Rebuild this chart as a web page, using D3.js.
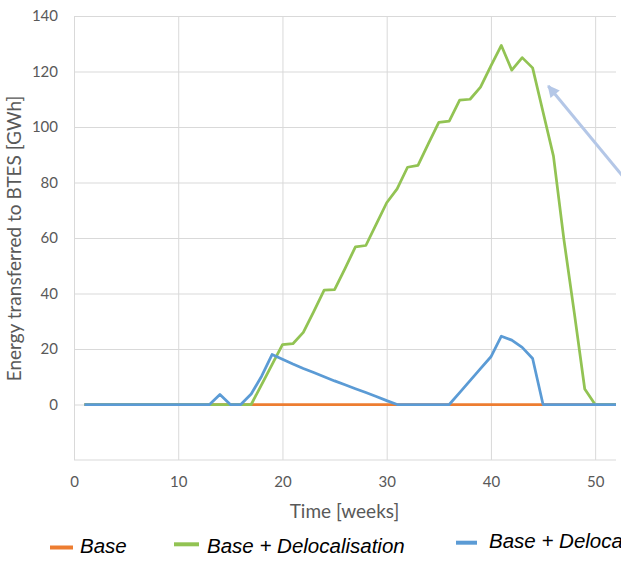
<!DOCTYPE html>
<html>
<head>
<meta charset="utf-8">
<script src="https://cdn.jsdelivr.net/npm/d3@7"></script>
<style>
  html, body { margin: 0; padding: 0; background: #fff; }
  svg { display: block; }
</style>
</head>
<body>
<svg id="chart" width="621" height="565"></svg>
<script>
// ---- data ----
const weeks = d3.range(1, 53);
const base = [0,0,0,0,0,0,0,0,0,0,0,0,0,0,0,0,0,0,0,0,0,0,0,0,0,0,0,0,0,0,0,0,0,0,0,0,0,0,0,0,0,0,0,0,0,0,0,0,0,0,0,0];
const baseDeloc = [0,0,0,0,0,0,0,0,0,0,0,0,0,0,0,0,0,7.2,14.4,21.6,21.9,26,33.5,41.2,41.4,49,56.8,57.3,65,72.7,77.7,85.5,86.2,94,101.7,102.1,109.7,110,114.4,122,129.4,120.5,125,121.3,105.4,89.5,59.5,33,5.6,0,0,0];
const baseDeloc2 = [0,0,0,0,0,0,0,0,0,0,0,0,0,3.6,0,0,3.8,10.2,18,16.3,14.6,13,11.5,10,8.5,7.1,5.7,4.3,2.9,1.4,0,0,0,0,0,0,4.3,8.6,12.9,17.2,24.6,23.2,20.6,16.6,0,0,0,0,0,0,0,0];
const xTicks = [0, 10, 20, 30, 40, 50];
const yTicks = [0, 20, 40, 60, 80, 100, 120, 140];
const seriesNames = ["Base", "Base + Delocalisation", "Base + Delocalisation"];
const seriesColors = ["#ed7d31", "#92c353", "#5b9bd5"];
const arrowTail = [52.6, 82.5];
const arrowTip = [45.5, 114.8];

// ---- chart ----
const svg = d3.select("#chart");
const L = 74, R = 616, T = 16, B = 460;
const x = d3.scaleLinear().domain([0, 52]).range([L, R]);
const y = d3.scaleLinear().domain([-20, 140]).range([B, T]);
const tickFont = "Lato, 'Open Sans', sans-serif";

// y grid + labels
const yAxis = svg.append("g").attr("transform", `translate(${L},0)`)
  .call(d3.axisLeft(y).tickValues(yTicks).tickSize(-(R - L)).tickPadding(16));
yAxis.select(".domain").remove();
yAxis.selectAll("line").attr("stroke", "#d9d9d9").attr("stroke-width", 1);
yAxis.selectAll("text").attr("fill", "#595959").style("font-family", tickFont).style("font-size", "15px");

// x grid + labels
const xAxis = svg.append("g").attr("transform", `translate(0,${B})`)
  .call(d3.axisBottom(x).tickValues(xTicks).tickSize(-(B - T)).tickPadding(16));
xAxis.select(".domain").remove();
xAxis.selectAll("line").attr("stroke", "#d9d9d9").attr("stroke-width", 1);
xAxis.selectAll("text").attr("fill", "#595959").style("font-family", tickFont).style("font-size", "15px");

// bottom axis line
svg.append("line").attr("x1", L).attr("x2", R).attr("y1", y(-20)).attr("y2", y(-20))
  .attr("stroke", "#d9d9d9").attr("stroke-width", 1.2);

// series
const line = d3.line().x((d, i) => x(weeks[i])).y(d => y(d));
[base, baseDeloc, baseDeloc2].forEach((s, k) => {
  svg.append("path").datum(s).attr("d", line)
    .attr("fill", "none").attr("stroke", seriesColors[k])
    .attr("stroke-width", 2.75).attr("stroke-linejoin", "round");
});

// arrow annotation
const defs = svg.append("defs");
defs.append("marker").attr("id", "ah").attr("viewBox", "0 0 10 10")
  .attr("refX", 9).attr("refY", 5).attr("markerWidth", 5).attr("markerHeight", 4)
  .attr("markerUnits", "strokeWidth").attr("orient", "auto")
  .append("path").attr("d", "M0,0 L10,5 L0,10 Z").attr("fill", "#b4c7e7");
svg.append("line")
  .attr("x1", x(arrowTail[0])).attr("y1", y(arrowTail[1]))
  .attr("x2", x(arrowTip[0])).attr("y2", y(arrowTip[1]))
  .attr("stroke", "#b4c7e7").attr("stroke-width", 3).attr("marker-end", "url(#ah)");

// axis titles
svg.append("text").attr("x", 344.5).attr("y", 518).attr("text-anchor", "middle")
  .attr("fill", "#595959").style("font-family", tickFont).style("font-size", "19px")
  .text("Time [weeks]");
svg.append("text").attr("transform", "translate(21,238.5) rotate(-90)").attr("text-anchor", "middle")
  .attr("fill", "#595959").style("font-family", tickFont).style("font-size", "19px")
  .text("Energy transferred to BTES [GWh]");

// legend
const legendItems = [
  { x1: 50, x2: 73, ly: 547.5, tx: 80, ty: 553 },
  { x1: 174, x2: 199, ly: 544.3, tx: 207, ty: 553 },
  { x1: 456, x2: 477, ly: 542.7, tx: 489, ty: 547.5 }
];
legendItems.forEach((it, k) => {
  svg.append("line").attr("x1", it.x1).attr("x2", it.x2).attr("y1", it.ly).attr("y2", it.ly)
    .attr("stroke", seriesColors[k]).attr("stroke-width", 4);
  svg.append("text").attr("x", it.tx).attr("y", it.ty)
    .attr("fill", "#000").style("font-family", "'Liberation Sans', Arial, sans-serif")
    .style("font-style", "italic").style("font-size", "20.5px")
    .text(seriesNames[k]);
});
</script>
</body>
</html>
